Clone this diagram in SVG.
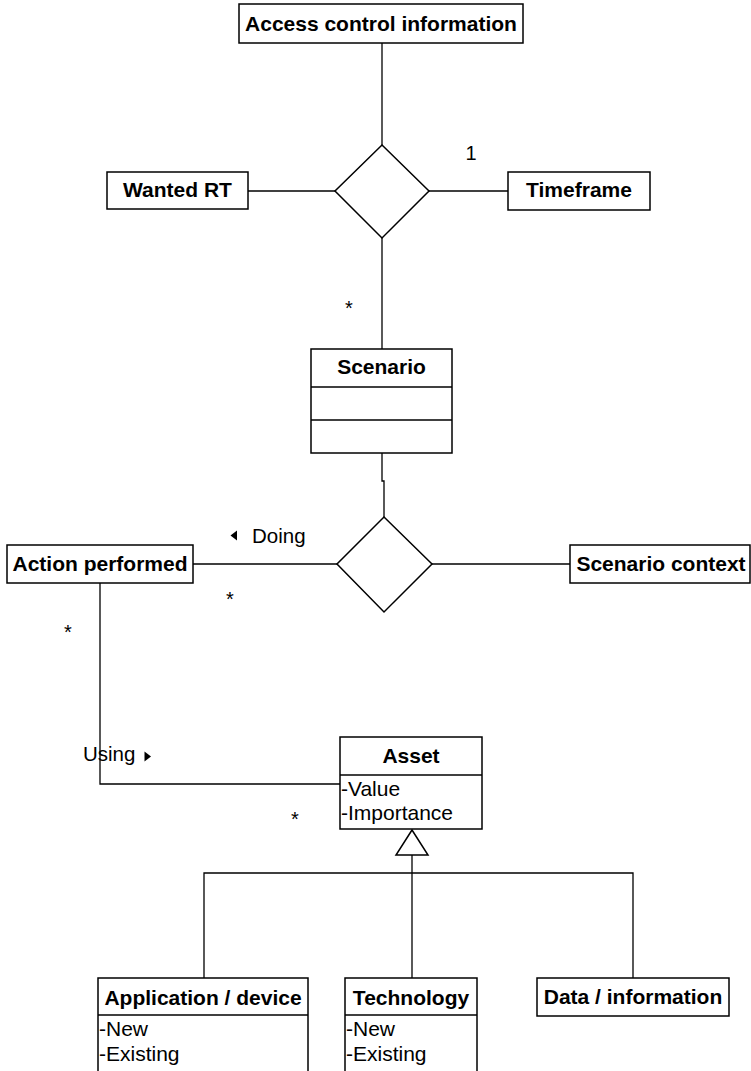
<svg xmlns="http://www.w3.org/2000/svg" width="751" height="1071" viewBox="0 0 751 1071">
  <style>
    .box { fill: #ffffff; stroke: #000000; stroke-width: 1.5; }
    .line { fill: none; stroke: #000000; stroke-width: 1.3; }
    .title { font-family: "Liberation Sans", Arial, sans-serif; font-size: 21px; font-weight: bold; fill: #000000; text-anchor: middle; }
    .attr { font-family: "Liberation Sans", Arial, sans-serif; font-size: 21px; fill: #000000; }
    .label { font-family: "Liberation Sans", Arial, sans-serif; font-size: 20.5px; fill: #000000; }
    .mult { font-family: "Liberation Sans", Arial, sans-serif; font-size: 20px; fill: #000000; text-anchor: middle; }
  </style>
  <rect width="751" height="1071" fill="#ffffff"/>

  <!-- connectors -->
  <g id="connectors">
    <path class="line" d="M382,43 V145"/>
    <path class="line" d="M248,191 H335"/>
    <path class="line" d="M429,191 H508"/>
    <path class="line" d="M382,238 V349"/>
    <path class="line" d="M382,453 V481 H384 V517"/>
    <path class="line" d="M193,564 H337"/>
    <path class="line" d="M432,564 H570"/>
    <path class="line" d="M100,583 V784 H340"/>
    <!-- generalization to Asset -->
    <polygon class="box" points="412,830 428,855 396,855"/>
    <path class="line" d="M412,855 V978"/>
    <path class="line" d="M204,978 V873 H633 V978"/>

    <!-- labels and multiplicities -->
    <text class="mult" x="471" y="160">1</text>
    <text class="mult" x="349" y="315">*</text>
    <polygon points="237,530.5 237,540.5 230.5,535.5" fill="#000000"/>
    <text class="label" x="252" y="543">Doing</text>
    <text class="mult" x="230" y="606">*</text>
    <text class="mult" x="68" y="639">*</text>
    <text class="label" x="83" y="761">Using</text>
    <polygon points="144.5,751.5 144.5,761.5 151,756.5" fill="#000000"/>
    <text class="mult" x="295" y="826">*</text>
  </g>

  <g id="access-control-information">
    <rect class="box" x="239" y="4" width="284" height="39"/>
    <text class="title" x="381" y="31">Access control information</text>
  </g>

  <g id="relation-top">
    <polygon class="box" points="382,145 429,191 382,238 335,191"/>
  </g>

  <g id="wanted-rt">
    <rect class="box" x="107" y="172" width="141" height="37"/>
    <text class="title" x="177.5" y="197">Wanted RT</text>
  </g>

  <g id="timeframe">
    <rect class="box" x="508" y="172" width="142" height="38"/>
    <text class="title" x="579" y="197">Timeframe</text>
  </g>

  <g id="scenario">
    <rect class="box" x="311" y="349" width="141" height="104"/>
    <line class="line" x1="311" y1="387" x2="452" y2="387"/>
    <line class="line" x1="311" y1="420" x2="452" y2="420"/>
    <text class="title" x="381.5" y="374">Scenario</text>
  </g>

  <g id="relation-middle">
    <polygon class="box" points="384,517 432,564 384,612 337,564"/>
  </g>

  <g id="action-performed">
    <rect class="box" x="7" y="545" width="186" height="38"/>
    <text class="title" x="100" y="571">Action performed</text>
  </g>

  <g id="scenario-context">
    <rect class="box" x="570" y="545" width="180" height="38"/>
    <text class="title" x="661" y="571">Scenario context</text>
  </g>

  <g id="asset">
    <rect class="box" x="340" y="737" width="142" height="92"/>
    <line class="line" x1="340" y1="775" x2="482" y2="775"/>
    <text class="title" x="411" y="763">Asset</text>
    <text class="attr" x="341" y="796">-Value</text>
    <text class="attr" x="341" y="820">-Importance</text>
  </g>

  <g id="application-device">
    <rect class="box" x="98" y="978" width="210" height="100"/>
    <line class="line" x1="98" y1="1015" x2="308" y2="1015"/>
    <text class="title" x="203" y="1005">Application / device</text>
    <text class="attr" x="99" y="1036">-New</text>
    <text class="attr" x="99" y="1061">-Existing</text>
  </g>

  <g id="technology">
    <rect class="box" x="345" y="978" width="132" height="100"/>
    <line class="line" x1="345" y1="1015" x2="477" y2="1015"/>
    <text class="title" x="411" y="1005">Technology</text>
    <text class="attr" x="346" y="1036">-New</text>
    <text class="attr" x="346" y="1061">-Existing</text>
  </g>

  <g id="data-information">
    <rect class="box" x="537" y="978" width="192" height="38"/>
    <text class="title" x="633" y="1004">Data / information</text>
  </g>
</svg>
